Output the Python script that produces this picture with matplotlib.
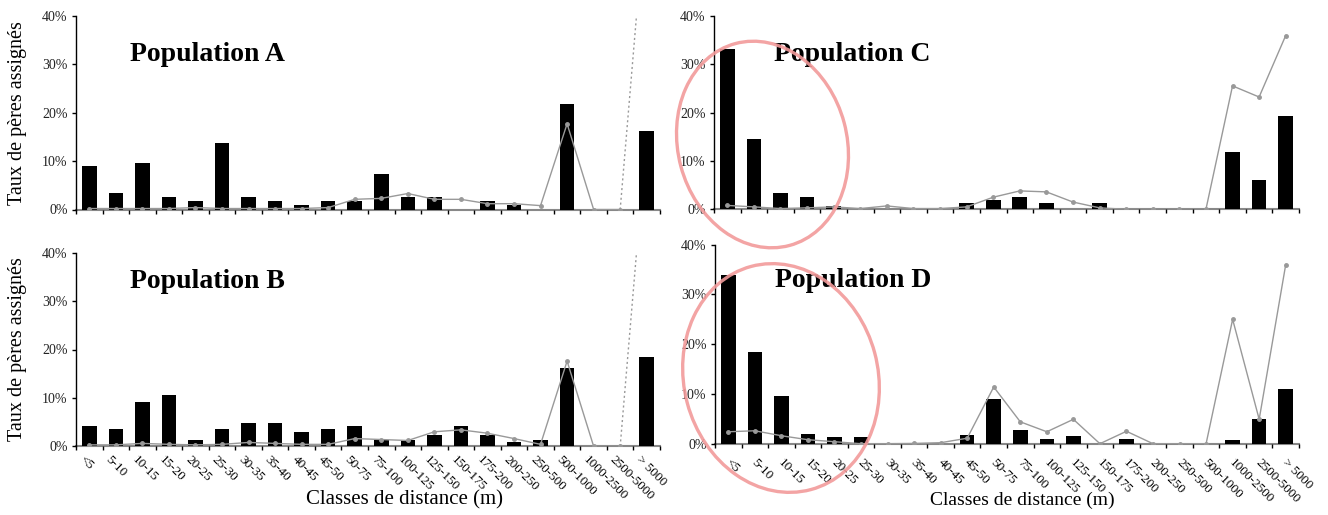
import numpy as np
import matplotlib
matplotlib.use('Agg')
import matplotlib.pyplot as plt
from matplotlib.patches import Ellipse
from matplotlib.transforms import ScaledTranslation

plt.rcParams['font.family'] = ['Liberation Serif', 'DejaVu Serif']

classes = ['<5', '5-10', '10-15', '15-20', '20-25', '25-30', '30-35', '35-40',
           '40-45', '45-50', '50-75', '75-100', '100-125', '125-150', '150-175',
           '175-200', '200-250', '250-500', '500-1000', '1000-2500', '2500-5000',
           '> 5000']

# bars: observed share of assigned fathers (%)
bars_a = [9.0, 3.4, 9.7, 2.5, 1.7, 13.8, 2.5, 1.7, 0.9, 1.7, 1.7, 7.3, 2.5, 2.5,
          0.0, 1.7, 0.9, 0.0, 21.8, 0.0, 0.0, 16.2]
bars_b = [4.2, 3.6, 9.2, 10.5, 1.4, 3.6, 4.9, 4.9, 3.0, 3.6, 4.2, 1.4, 1.4, 2.3,
          4.2, 2.3, 0.8, 1.4, 16.2, 0.0, 0.0, 18.4]
bars_c = [33.2, 14.6, 3.4, 2.6, 0.7, 0.0, 0.0, 0.0, 0.0, 1.3, 1.9, 2.6, 1.3, 0.0,
          1.3, 0.0, 0.0, 0.0, 0.0, 11.9, 6.0, 19.3]
bars_d = [33.9, 18.4, 9.6, 1.9, 1.4, 1.3, 0.0, 0.15, 0.0, 1.7, 9.0, 2.7, 1.0, 1.5,
          0.0, 1.0, 0.0, 0.0, 0.0, 0.7, 4.9, 11.0]

# lines: expected distribution (%)
line_a = [0.2, 0.2, 0.2, 0.2, 0.4, 0.2, 0.2, 0.2, 0.2, 0.4, 2.1, 2.3, 3.3, 2.1,
          2.1, 1.2, 1.2, 0.8, 17.7, 0.0, 0.0, 65.0]
line_b = [0.3, 0.3, 0.6, 0.4, 0.3, 0.4, 0.8, 0.6, 0.4, 0.4, 1.6, 1.4, 1.2, 3.0,
          3.4, 2.7, 1.6, 0.4, 17.6, 0.0, 0.0, 65.0]
line_c = [0.8, 0.5, 0.15, 0.3, 0.5, 0.15, 0.7, 0.15, 0.15, 0.5, 2.5, 3.8, 3.6, 1.5,
          0.3, 0.0, 0.0, 0.0, 0.0, 25.5, 23.2, 35.9]
line_d = [2.4, 2.6, 1.6, 0.8, 0.4, 0.0, 0.0, 0.05, 0.2, 1.1, 11.4, 4.4, 2.4, 4.9,
          0.0, 2.5, 0.0, 0.0, 0.0, 25.0, 4.9, 36.0]

fig = plt.figure(figsize=(13.28, 5.15), dpi=100)
W, H = 1328.0, 515.0


def make_axes(x0, x1, ytop, ybot):
    return fig.add_axes([x0 / W, 1 - ybot / H, (x1 - x0) / W, (ybot - ytop) / H])


panels = [
    # axes, bars, line, title, title pos, dotted last segment, labels, label offset
    (make_axes(76, 660, 15.7, 209.5), bars_a, line_a, 'Population A', (0.226, 0.80), True, False, None),
    (make_axes(76, 660, 252.7, 446.3), bars_b, line_b, 'Population B', (0.225, 0.85), True, True, (-4, 5)),
    (make_axes(714, 1299, 15.7, 209.3), bars_c, line_c, 'Population C', (0.236, 0.80), False, False, None),
    (make_axes(715, 1299, 244.7, 443.7), bars_d, line_d, 'Population D', (0.237, 0.82), False, True, (3, 9)),
]

x = np.arange(len(classes))
for ax, bars, line, title, tpos, dotted, labels, offs in panels:
    ax.bar(x, bars, width=0.55, color='black', zorder=2)
    line = np.array(line)
    if dotted:
        ax.plot(x[:-1], line[:-1], color='#999999', lw=1.0, marker='o', ms=2.5, zorder=3)
        ax.plot(x[-2:], line[-2:], color='#999999', lw=1.0, ls=(0, (1.5, 2)), zorder=3)
    else:
        ax.plot(x, line, color='#999999', lw=1.0, marker='o', ms=2.5, zorder=3)

    ax.set_xlim(-0.5, len(classes) - 0.5)
    ax.set_ylim(0, 40)
    ax.set_yticks([0, 10, 20, 30, 40])
    ax.set_yticklabels(['0%', '10%', '20%', '30%', '40%'], fontsize=10, color='#222222')
    for s in ['top', 'right']:
        ax.spines[s].set_visible(False)
    ax.spines['left'].set_color('black')
    ax.spines['left'].set_linewidth(1.0)
    ax.spines['bottom'].set_color('#888888')
    ax.spines['bottom'].set_linewidth(1.5)
    ax.spines['bottom'].set_zorder(1)
    ax.tick_params(axis='y', length=3, width=1, pad=3, direction='out')
    ax.set_xticks(np.arange(-0.5, len(classes)), minor=True)
    ax.tick_params(axis='x', which='minor', length=3, width=1, color='black', direction='out')
    ax.set_xticks(x)
    if labels:
        ax.set_xticklabels(classes, rotation=-45, ha='left', va='top',
                           rotation_mode='anchor', fontsize=9.5)
        ax.tick_params(axis='x', which='major', length=0, pad=offs[1])
        for lab in ax.get_xticklabels():
            lab.set_transform(lab.get_transform() +
                              ScaledTranslation(offs[0] / 100.0, 0, fig.dpi_scale_trans))
    else:
        ax.set_xticklabels([])
        ax.tick_params(axis='x', which='major', length=0)

    ax.text(tpos[0], tpos[1], title, transform=ax.transAxes, ha='center', va='center',
            fontsize=20, fontweight='bold')

# axis titles
fig.text(18 / W, 1 - 113 / H, 'Taux de pères assignés', rotation=90, ha='center',
         va='center', fontsize=14.5)
fig.text(18 / W, 1 - 349 / H, 'Taux de pères assignés', rotation=90, ha='center',
         va='center', fontsize=14.5)
fig.text(404 / W, 1 - 500 / H, 'Classes de distance (m)', ha='center', va='center',
         fontsize=15)
fig.text(1022 / W, 1 - 500 / H, 'Classes de distance (m)', ha='center', va='center',
         fontsize=14)

# highlight ellipses (pixel positions, converted to inches)
for cx, cy, w, h in [(762.5, 144.5, 169, 209), (781, 378, 194, 231)]:
    e = Ellipse((cx / 100.0, (H - cy) / 100.0), w / 100.0, h / 100.0, angle=15,
                transform=fig.dpi_scale_trans, fill=False, edgecolor='#f29a9a',
                lw=2.4, alpha=0.9, zorder=10)
    fig.add_artist(e)

fig.savefig('out.png', dpi=100)
